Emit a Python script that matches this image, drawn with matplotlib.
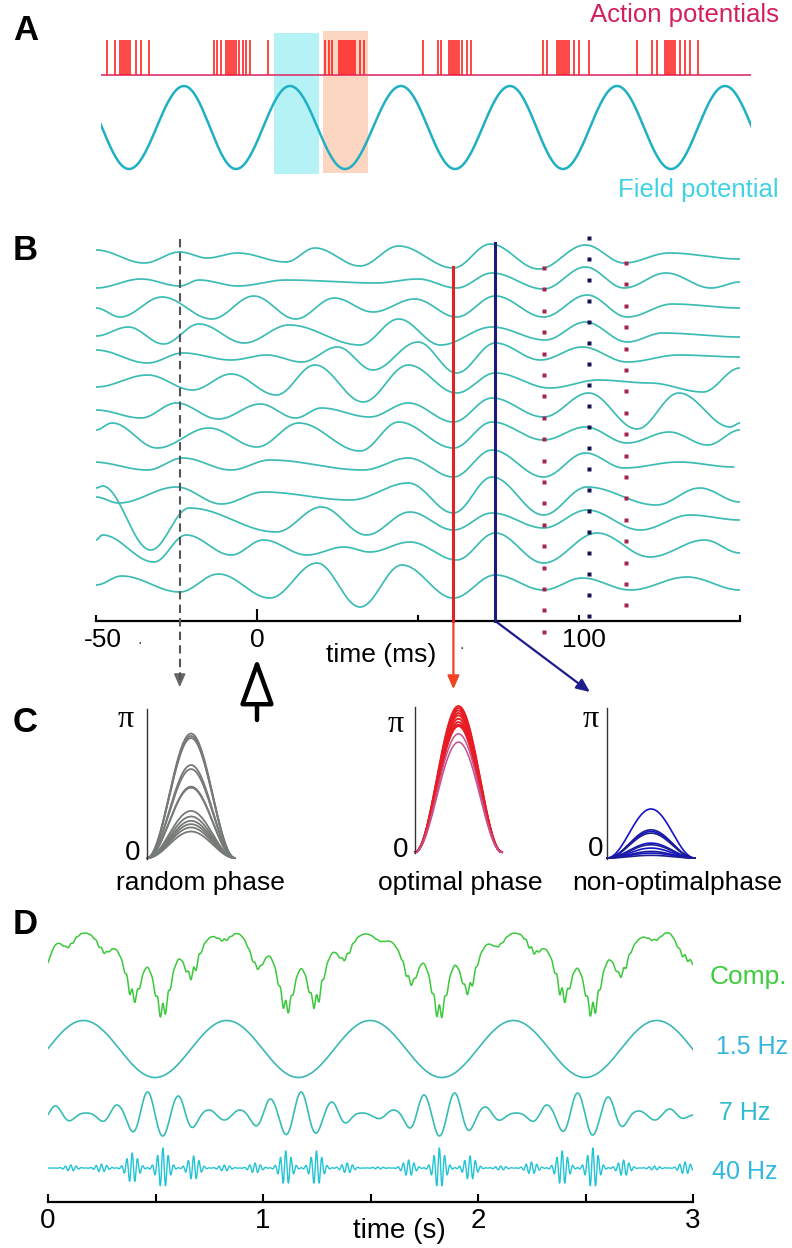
import numpy as np
import matplotlib
matplotlib.use("Agg")
import matplotlib.pyplot as plt
import matplotlib.transforms as mtransforms
from matplotlib.patches import Rectangle

plt.rcParams['font.family'] = ['Liberation Sans', 'DejaVu Sans']

# ---------------- data ----------------
# A: spike times (ms) and field potential extrema (ms)
spike_times = [6, 14, 19, 21, 23, 25, 27, 29, 35, 40, 48,
               113, 116, 120, 125, 127, 129, 131, 133, 135, 138, 142, 145, 149, 167,
               224, 228, 231, 238, 240, 242, 244, 246, 248, 250, 252, 254, 259, 263,
               322, 337, 340, 348, 350, 352, 354, 356, 358, 361, 366, 370,
               442, 446, 456, 458, 460, 462, 464, 466, 468, 473, 478, 488,
               536, 551, 556, 564, 566, 568, 570, 572, 574, 579, 584, 589, 597]
field_peaks = [-26, 83, 189, 300, 409, 516, 624]
field_troughs = [28, 135, 244, 354, 462, 570, 678]
cyan_window = (173, 218)
orange_window = (222, 267)

# B: LFP traces, extrema as (time ms, amplitude)
traces_t = [
    [-50, -35, -24, -15.5, -6, 9, 18, 32, 44, 61, 72.5, 87.5, 102, 114, 128, 150],
    [-50, -36, -24, -18, -6, 9, 37, 50, 62, 73, 89, 102, 114, 127, 141, 150],
    [-50, -42.5, -29.5, -14, -1, 12, 24, 36, 49, 62, 74, 89, 102.5, 115, 129, 150],
    [-50, -40, -29, -18, -4, 10, 32, 44, 57, 73, 89.5, 102, 115, 126, 150],
    [-50, -34, -23, -8, 3, 14, 25, 36, 50, 62, 74, 88, 101, 115, 131, 150],
    [-50, -34, -20, -8, 6, 18, 33, 47, 62, 74, 91, 106, 122, 138.5, 150],
    [-50, -36, -25, -12, 1, 12, 20, 35, 47, 61, 73, 89, 103, 118, 131, 147, 150],
    [-50, -45, -31, -15, 0, 13, 32, 44, 61, 73, 89, 102, 115, 128, 140, 150],
    [-51, -34, -23, -8, 4, 33, 47, 61, 73, 89, 102, 114, 131, 148],
    [-50, -43, -25, -11, 2, 29, 47, 61, 73, 89, 102.5, 124, 137.5, 150],
    [-50, -48, -33, -21, 6, 20, 34, 47.5, 61, 73, 89, 102.5, 119, 134.5, 150],
    [-50, -48, -32, -22, -8, 2, 15.5, 27, 35, 47.5, 62, 74, 89, 105.6, 122, 139, 150],
    [-50, -42, -24, -12, 4, 18.6, 32, 45, 61, 74, 89, 101, 116, 133.5, 150],
]
traces_v = [
    [6, -7, 4, -2, 3, -6, 8, -10, 10, -12, 12, -13, 11, -7, 3, -3],
    [-5, 4, -3, 3, -3, 3, 0, 4, -5, 10, -6, 16, -5, 10, -5, 1],
    [-1, -10, 10, -12, 11, -12, 9, -5, 8, -10, 11, -10, 12, -10, 3, -1],
    [-2, 7, -10, 10, -9, 9, -11, 15, -11, 7, -6, 12, -8, 1, -3],
    [7, -6, 4, -3, 2, -5, 10, -13, 15, -16, 14, -3, 10, -5, 2, 0],
    [-4, 8, -7, 9, -12, 18, -19, 18, -10, 10, -5, 3, 0, -9, 15],
    [2, -6, 9, -7, 8, -6, 4, -5, 9, -10, 14, -5, 19, -17, 19, -15, -11],
    [6, 13, -12, 8, -11, 13, -15, 14, -12, 14, -4, 9, -7, 4, -9, 6],
    [2, -6, 6, -6, 4, -6, 6, -13, 14, -13, 11, -4, 2, -3],
    [0, -6, 10, -7, 5, -3, 14, -16, 20, -18, 10, -8, 9, -5],
    [27, 29, -35, 7, -17, 8, -20, 3, -15, 2, -13, 5, -15, 0, -5],
    [10, 15, -12, 15, -5, 10, -5, 3, -2, 8, -10, 17, -13, 17, -7, 10, -3],
    [0, 9, -7, 11, -13, 22, -22, 20, -13, 10, -5, 7, -5, 8, -5],
]
t_random, t_optimal, t_nonoptimal = -24, 61, 74
t_target = 103.4
dot_times_phase = [89, 114.5]
dot_time_peak = 103

# C: phase-reset profiles, peak heights as fraction of pi
random_heights = [0.83, 0.814, 0.80, 0.62, 0.593, 0.476, 0.469, 0.314, 0.277, 0.248, 0.226, 0.204, 0.177]
optimal_heights = [1.0, 0.986, 0.97, 0.952, 0.936, 0.913, 0.89, 0.872, 0.863]
optimal_low_heights = [0.81, 0.753]
nonopt_heights = [0.325, 0.187, 0.176, 0.165, 0.099, 0.088, 0.066, 0.044, 0.033, 0.018]

# D: nested oscillations
slow_freq, slow_peak = 1.5, 0.165
theta_freq, theta_peak = 7, 0.463
theta_amp = [9, 2, 10, 23, 19, 5, 5, 16, 23, 13, 2, 5, 20, 22, 8, 2, 10, 22, 18, 4, 6]
gamma_freq = 40
gamma_amp = [3, 4, 15, 20, 12, 3, 5, 17, 17, 5, 1, 8, 20, 12, 2, 6, 17, 20, 8, 2, 6]


# ---------------- helpers ----------------
W, H = 792, 1248
fig = plt.figure(figsize=(W / 100, H / 100), dpi=100)


def px_axes(x0, y0, x1, y1):
    ax = fig.add_axes([x0 / W, 1 - y1 / H, (x1 - x0) / W, (y1 - y0) / H])
    ax.patch.set_alpha(0)
    return ax


def ftext(x, y, s, **kw):
    fig.text(x / W, 1 - y / H, s, **kw)


def eased(tk, vk, n=40):
    xs, ys = [], []
    for i in range(len(tk) - 1):
        s = np.linspace(0, 1, n, endpoint=False)
        e = (1 - np.cos(np.pi * s)) / 2
        xs.append(tk[i] + (tk[i + 1] - tk[i]) * s)
        ys.append(vk[i] + (vk[i + 1] - vk[i]) * e)
    xs.append([tk[-1]])
    ys.append([vk[-1]])
    return np.concatenate(xs), np.concatenate(ys)


LBL = dict(fontsize=25, fontweight='bold', ha='left', va='center')

# ---------------- A ----------------
ax_a = px_axes(101, 0, 751, 210)
ax_a.set_xlim(0, 650)
ax_a.set_ylim(210, 0)
ax_a.axis('off')
ax_a.add_patch(Rectangle((cyan_window[0], 33), cyan_window[1] - cyan_window[0], 141,
                         color='#b4f2f6', lw=0, zorder=0))
ax_a.add_patch(Rectangle((orange_window[0], 31), orange_window[1] - orange_window[0], 142,
                         color='#fcd6c0', lw=0, zorder=0))
ax_a.axhline(75, color='#e0407a', lw=1.3, zorder=2)
ax_a.vlines(spike_times, 75, 40, color='#ff1414', lw=1.1, zorder=3)
ext_t = sorted(field_peaks + field_troughs)
ext_v = [1 if t in field_peaks else -1 for t in ext_t]
ft, fv = eased(ext_t, ext_v)
ax_a.plot(ft, 127.5 - 41.5 * fv, color='#1fb0c4', lw=1.8, zorder=3)
ftext(13, 30, 'A', **LBL)
ftext(779, 15, 'Action potentials', fontsize=18.5, color='#d3205a', ha='right', va='center')
ftext(779, 190, 'Field potential', fontsize=18.5, color='#40d2e2', ha='right', va='center')

# ---------------- B ----------------
ax_b = px_axes(96, 230, 740, 621)
ax_b.set_xlim(-50, 150)
ax_b.set_ylim(621, 230)
for s in ['top', 'right', 'left']:
    ax_b.spines[s].set_visible(False)
ax_b.spines['bottom'].set_linewidth(1.6)
ax_b.set_yticks([])
ax_b.set_xticks([-50, 0, 50, 100, 150])
ax_b.set_xticklabels(['-50', '0', '', '100', ''])
ax_b.tick_params(axis='x', direction='in', length=4, width=1.5, labelsize=19, pad=5)
ax_b.xaxis.get_major_ticks()[1].tick1line.set_markersize(9)
for lab, dx in zip(ax_b.get_xticklabels(), [7, 0, 0, 5, 0]):
    lab.set_transform(lab.get_transform() + mtransforms.ScaledTranslation(dx / 100, 0, fig.dpi_scale_trans))

bases = [256, 283, 307, 334, 357, 383, 412, 436, 464, 497, 515, 550, 585]
for base, tt, vv in zip(bases, traces_t, traces_v):
    x, y = eased(tt, vv)
    ax_b.plot(x, base - y, color='#3cbcb4', lw=1.25, zorder=2)

# markers
ax_b.plot([t_optimal, t_optimal], [267, 621], color='#e02424', lw=2.2, zorder=4, clip_on=False)
ax_b.plot([t_nonoptimal, t_nonoptimal], [243, 621], color='#1c1c78', lw=2.2, zorder=4, clip_on=False)
ax_b.plot([t_random, t_random], [239, 680], color='#555555', lw=1.5, ls=(0, (4, 2.5)), zorder=4, clip_on=False)
ax_b.annotate('', xy=(t_random, 690), xytext=(t_random, 676), annotation_clip=False,
              arrowprops=dict(arrowstyle='-|>,head_length=0.8,head_width=0.35', color='#666666', lw=1.2))
ax_b.annotate('', xy=(t_optimal, 692), xytext=(t_optimal, 621), annotation_clip=False,
              arrowprops=dict(arrowstyle='-|>,head_length=0.8,head_width=0.35', color='#f04422', lw=1.6))
ax_b.annotate('', xy=(t_target, 692), xytext=(t_nonoptimal, 621), annotation_clip=False,
              arrowprops=dict(arrowstyle='-|>,head_length=0.8,head_width=0.35', color='#1c1c8c', lw=1.6,
                              shrinkA=0, shrinkB=0))
for td, top, bot in zip(dot_times_phase, [268, 263], [633, 620]):
    ys = np.arange(top, bot, 21.4)
    ax_b.plot(np.full(len(ys), td), ys, 's', ms=2.6, color='#a3224f', mec='none', clip_on=False, zorder=5)
ys = np.arange(238, 622, 21.0)
ax_b.plot(np.full(len(ys), dot_time_peak), ys, 's', ms=2.6, color='#12124e', mec='none', clip_on=False, zorder=5)

# stimulus arrow
ax_b.annotate('', xy=(0, 658), xytext=(0, 720), annotation_clip=False,
              arrowprops=dict(arrowstyle='-|>,head_length=1.1,head_width=0.4', mutation_scale=26,
                              fc='white', ec='black', lw=3.2, shrinkA=0, shrinkB=0))
ftext(381, 655, 'time (ms)', fontsize=19, ha='center', va='center')
ftext(140, 640, '.', fontsize=12, color='#444444', ha='center', va='center')
ftext(462, 644, '.', fontsize=12, color='#444444', ha='center', va='center')
ftext(13, 250, 'B', **LBL)

# ---------------- C ----------------
def phase_axes(x0, y0, x1, y1):
    ax = px_axes(x0, y0, x1, y1)
    ax.set_xlim(0, 1)
    ax.set_ylim(0, np.pi)
    for s in ['top', 'right', 'bottom']:
        ax.spines[s].set_visible(False)
    ax.spines['left'].set_linewidth(1.0)
    ax.spines['left'].set_color('#333333')
    ax.set_xticks([])
    ax.set_yticks([])
    return ax


xc = np.linspace(0, 1, 200)
bell = np.sin(np.pi * xc) ** 2
ax_c1 = phase_axes(147, 709, 235, 859)
for h in random_heights:
    ax_c1.plot(xc, np.pi * h * bell + 0.02, color='#767a76', lw=1.3, clip_on=False)
ax_c2 = phase_axes(415, 707, 502, 853)
for h in optimal_heights:
    ax_c2.plot(xc, np.pi * h * bell + 0.02, color='#e81c24', lw=1.4, clip_on=False)
for h in optimal_low_heights:
    ax_c2.plot(xc, np.pi * h * bell + 0.02, color='#c8508c', lw=1.1, clip_on=False)
ax_c3 = phase_axes(607, 708, 695, 859)
for i, h in enumerate(nonopt_heights):
    ax_c3.plot(xc, np.pi * h * bell + 0.02, color='#1e1e90' if i % 2 else '#1414c8', lw=1.2, clip_on=False)

for x, y in [(126, 720), (396, 724), (591, 720)]:
    ftext(x, y, 'π', fontsize=23, ha='center', va='center', family='Liberation Serif')
for x, y in [(133, 853), (401, 850), (596, 849)]:
    ftext(x, y, '0', fontsize=20, ha='center', va='center')
ftext(200, 883, 'random phase', fontsize=19, ha='center', va='center')
ftext(460, 883, 'optimal phase', fontsize=19, ha='center', va='center')
ftext(677, 883, 'non-optimalphase', fontsize=19, ha='center', va='center')
ftext(13, 722, 'C', **LBL)

# ---------------- D ----------------
t = np.linspace(0, 3, 6000)
slow = 28.5 * np.cos(2 * np.pi * slow_freq * (t - slow_peak))
theta = np.zeros_like(t)
gamma = np.zeros_like(t)
for k, (a, g) in enumerate(zip(theta_amp, gamma_amp)):
    tk = theta_peak + (k - 3) / theta_freq
    u = (t - tk) * theta_freq
    win = np.where(np.abs(u) < 1, np.cos(np.pi * u / 2) ** 2, 0)
    theta += a * win * np.cos(2 * np.pi * theta_freq * (t - tk))
    tau = tk + 0.5 / theta_freq
    gamma += g * np.exp(-((t - tau) / 0.036) ** 2) * np.cos(2 * np.pi * gamma_freq * (t - tau))
comp = slow + theta + 0.4 * gamma

ax_d = px_axes(48, 915, 693, 1202)
ax_d.set_xlim(0, 3)
ax_d.set_ylim(1202, 915)
for s in ['top', 'right', 'left']:
    ax_d.spines[s].set_visible(False)
ax_d.spines['bottom'].set_linewidth(1.6)
ax_d.set_yticks([])
ax_d.set_xticks(np.arange(0, 3.01, 0.5))
ax_d.set_xticklabels(['0', '', '1', '', '2', '', '3'])
ax_d.tick_params(axis='x', direction='in', length=6, width=1.5, labelsize=20, pad=4)
ax_d.plot(t, 963.5 - comp, color='#3cc83c', lw=1.1)
ax_d.plot(t, 1049 - slow, color='#3cb8b4', lw=1.2)
ax_d.plot(t, 1115 - theta, color='#38bcb4', lw=1.2)
ax_d.plot(t, 1168 - gamma, color='#22c4d6', lw=1.0)
ftext(748, 977, 'Comp.', fontsize=19, color='#3ccc3c', ha='center', va='center')
ftext(752, 1047, '1.5 Hz', fontsize=18, color='#36b4dc', ha='center', va='center')
ftext(745, 1113, '7 Hz', fontsize=18, color='#30bcd0', ha='center', va='center')
ftext(745, 1172, '40 Hz', fontsize=18, color='#30b8e0', ha='center', va='center')
ftext(399, 1231, 'time (s)', fontsize=20, ha='center', va='center')
ftext(13, 925, 'D', **LBL)

fig.savefig('out.png', dpi=100, facecolor='white')
